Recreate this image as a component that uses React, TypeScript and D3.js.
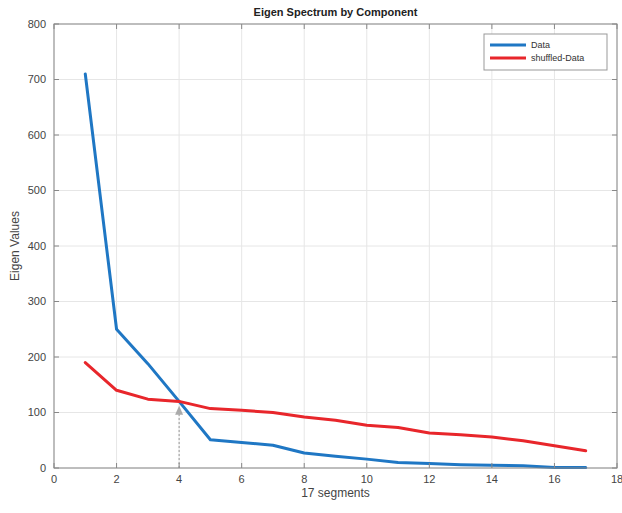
import * as d3 from 'd3';

const components = d3.range(1, 18);
const dataValues = [710, 250, 188, 120, 51, 46, 41, 27, 21, 16, 10, 8, 6, 5, 4, 1, 1];
const shuffledValues = [190, 140, 124, 120, 107, 104, 100, 92, 86, 77, 73, 63, 60, 56, 49, 40, 31];
const xTicks = [0, 2, 4, 6, 8, 10, 12, 14, 16, 18];
const yTicks = [0, 100, 200, 300, 400, 500, 600, 700, 800];
const seriesNames = ['Data', 'shuffled-Data'];
const seriesColors = ['#1f77c4', '#e8262b'];
const markerX = 4;
const markerTop = 112;

const W = 622;
const H = 513;
const margin = { top: 24, right: 5, bottom: 45, left: 54 };

const App = () => {
  const x = d3.scaleLinear().domain([0, 18]).range([margin.left, W - margin.right]);
  const y = d3.scaleLinear().domain([0, 800]).range([H - margin.bottom, margin.top]);

  const line = d3.line<number>()
    .x((_, i) => x(components[i]))
    .y((d) => y(d));

  const series = [dataValues, shuffledValues];
  const font = 'Helvetica, Arial, "Liberation Sans", sans-serif';
  const x0 = margin.left;
  const x1 = W - margin.right;
  const y0 = H - margin.bottom;
  const y1 = margin.top;

  return (
    <svg width={W} height={H} style={{ position: 'absolute', left: 0, top: 0, background: '#fff' }} fontFamily={font}>
      {/* grid */}
      {xTicks.map((t) => (
        <line key={'gx' + t} x1={x(t)} x2={x(t)} y1={y0} y2={y1} stroke="#e6e6e6" strokeWidth={1} />
      ))}
      {yTicks.map((t) => (
        <line key={'gy' + t} x1={x0} x2={x1} y1={y(t)} y2={y(t)} stroke="#e6e6e6" strokeWidth={1} />
      ))}

      {/* arrow at the crossing */}
      <line x1={x(markerX)} x2={x(markerX)} y1={y0} y2={y(markerTop) + 6} stroke="#999" strokeWidth={1} strokeDasharray="2,2" />
      <path d={`M${x(markerX)},${y(markerTop)} l-4,9 l8,0 z`} fill="#aaa" />

      {/* series */}
      {series.map((s, i) => (
        <path key={i} d={line(s) ?? ''} fill="none" stroke={seriesColors[i]} strokeWidth={3} strokeLinejoin="round" strokeLinecap="round" />
      ))}

      {/* box + ticks */}
      <rect x={x0} y={y1} width={x1 - x0} height={y0 - y1} fill="none" stroke="#888" strokeWidth={1} />
      {xTicks.map((t) => (
        <g key={'tx' + t}>
          <line x1={x(t)} x2={x(t)} y1={y0} y2={y0 - 5} stroke="#888" />
          <line x1={x(t)} x2={x(t)} y1={y1} y2={y1 + 5} stroke="#888" />
          <text x={x(t)} y={y0 + 15} textAnchor="middle" fontSize={11} fill="#444">{t}</text>
        </g>
      ))}
      {yTicks.map((t) => (
        <g key={'ty' + t}>
          <line x1={x0} x2={x0 + 5} y1={y(t)} y2={y(t)} stroke="#888" />
          <line x1={x1} x2={x1 - 5} y1={y(t)} y2={y(t)} stroke="#888" />
          <text x={x0 - 8} y={y(t)} dy="0.35em" textAnchor="end" fontSize={11} fill="#444">{t}</text>
        </g>
      ))}

      {/* labels */}
      <text x={(x0 + x1) / 2} y={16} textAnchor="middle" fontSize={11} fontWeight="bold" fill="#222">Eigen Spectrum by Component</text>
      <text x={(x0 + x1) / 2} y={H - 16} textAnchor="middle" fontSize={12} fill="#444">17 segments</text>
      <text transform={`translate(19,${(y0 + y1) / 2}) rotate(-90)`} textAnchor="middle" fontSize={12} fill="#444">Eigen Values</text>

      {/* legend */}
      <g transform="translate(484,34)">
        <rect x={0} y={0} width={123} height={36} fill="#fff" stroke="#999" />
        {seriesNames.map((n, i) => (
          <g key={n} transform={`translate(0,${11 + i * 13})`}>
            <line x1={6} x2={42} y1={0} y2={0} stroke={seriesColors[i]} strokeWidth={3} />
            <text x={47} y={0} dy="0.35em" fontSize={9} fill="#333">{n}</text>
          </g>
        ))}
      </g>
    </svg>
  );
};

export default App;
